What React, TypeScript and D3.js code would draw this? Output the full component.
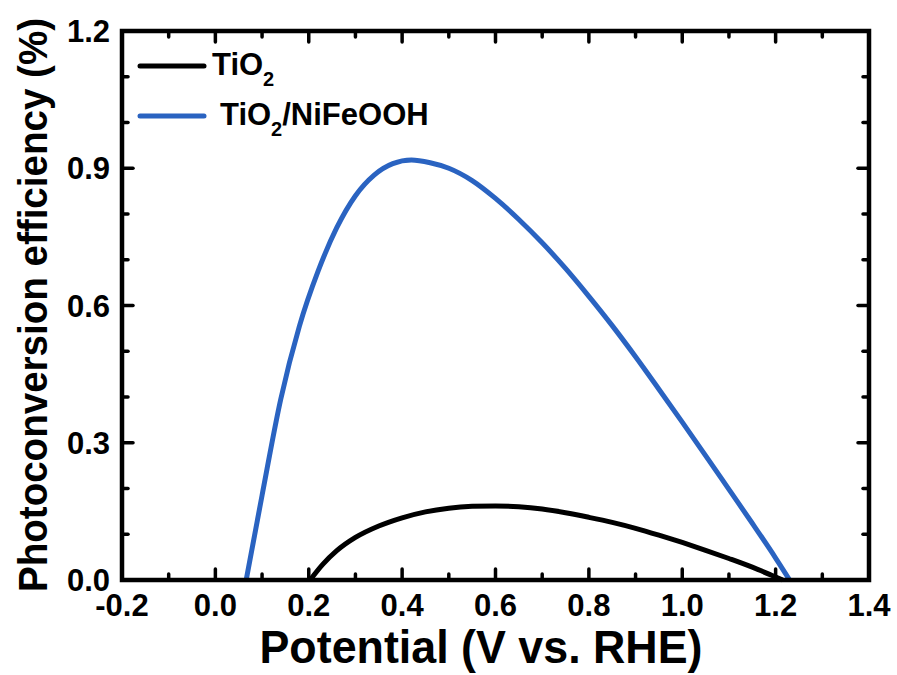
import React from "react";
import * as d3 from "d3";

const blueV = [0.066, 0.1, 0.14, 0.18, 0.22, 0.26, 0.3, 0.34, 0.38, 0.42, 0.46, 0.5, 0.55, 0.6, 0.65, 0.7, 0.75, 0.8, 0.85, 0.9, 0.95, 1.0, 1.05, 1.1, 1.15, 1.2, 1.23];
const blueE = [0, 0.185, 0.395, 0.555, 0.675, 0.77, 0.84, 0.885, 0.91, 0.918, 0.912, 0.9, 0.873, 0.834, 0.788, 0.737, 0.681, 0.62, 0.556, 0.488, 0.417, 0.345, 0.272, 0.198, 0.124, 0.048, 0];
const blackV = [0.203, 0.23, 0.26, 0.3, 0.35, 0.4, 0.45, 0.5, 0.55, 0.6, 0.65, 0.7, 0.75, 0.8, 0.85, 0.9, 0.95, 1.0, 1.05, 1.1, 1.15, 1.19, 1.215];
const blackE = [0, 0.034, 0.064, 0.093, 0.118, 0.136, 0.149, 0.157, 0.161, 0.162, 0.16, 0.155, 0.147, 0.137, 0.126, 0.113, 0.098, 0.082, 0.065, 0.047, 0.028, 0.011, 0];

const xMajor = [-0.2, 0.0, 0.2, 0.4, 0.6, 0.8, 1.0, 1.2, 1.4];
const xMinor = [-0.1, 0.1, 0.3, 0.5, 0.7, 0.9, 1.1, 1.3];
const yMajor = [0.0, 0.3, 0.6, 0.9, 1.2];
const yMinor = [0.1, 0.2, 0.4, 0.5, 0.7, 0.8, 1.0, 1.1];

const BLUE = "#2A63C1";
const FONT = "'Liberation Sans', Arial, sans-serif";

export default function App() {
  const L = 122, R = 869, T = 31, B = 580;
  const x = d3.scaleLinear().domain([-0.2, 1.4]).range([L, R]);
  const y = d3.scaleLinear().domain([0, 1.2]).range([B, T]);
  const line = d3.line<[number, number]>().x(d => x(d[0])).y(d => y(d[1])).curve(d3.curveMonotoneX);
  const blue = line(blueV.map((v, i) => [v, blueE[i]] as [number, number])) || "";
  const black = line(blackV.map((v, i) => [v, blackE[i]] as [number, number])) || "";
  const maj = 11, mnr = 6;
  const tickStyle = { stroke: "#000", strokeWidth: 3.5, strokeLinecap: "round" as const };

  return (
    <svg width={897} height={675} style={{ position: "absolute", left: 0, top: 0, background: "#fff" }} fontFamily={FONT} fontWeight="bold">
      <rect x={0} y={0} width={897} height={675} fill="#fff" />
      <path d={black} fill="none" stroke="#000" strokeWidth={5} strokeLinejoin="round" />
      <path d={blue} fill="none" stroke={BLUE} strokeWidth={5} strokeLinejoin="round" />
      {xMajor.map(v => (
        <g key={"xM" + v}>
          <line x1={x(v)} x2={x(v)} y1={B} y2={B - maj} {...tickStyle} />
          <line x1={x(v)} x2={x(v)} y1={T} y2={T + maj} {...tickStyle} />
        </g>
      ))}
      {xMinor.map(v => (
        <g key={"xm" + v}>
          <line x1={x(v)} x2={x(v)} y1={B} y2={B - mnr} {...tickStyle} />
          <line x1={x(v)} x2={x(v)} y1={T} y2={T + mnr} {...tickStyle} />
        </g>
      ))}
      {yMajor.map(v => (
        <g key={"yM" + v}>
          <line x1={L} x2={L + maj} y1={y(v)} y2={y(v)} {...tickStyle} />
          <line x1={R} x2={R - maj} y1={y(v)} y2={y(v)} {...tickStyle} />
        </g>
      ))}
      {yMinor.map(v => (
        <g key={"ym" + v}>
          <line x1={L} x2={L + mnr} y1={y(v)} y2={y(v)} {...tickStyle} />
          <line x1={R} x2={R - mnr} y1={y(v)} y2={y(v)} {...tickStyle} />
        </g>
      ))}
      <rect x={L} y={T} width={R - L} height={B - T} fill="none" stroke="#000" strokeWidth={4.5} strokeLinejoin="miter" />
      {xMajor.map(v => (
        <text key={"xl" + v} x={x(v)} y={616} textAnchor="middle" fontSize={31} fill="#000">{d3.format(".1f")(v).replace("−", "-")}</text>
      ))}
      {yMajor.map(v => (
        <text key={"yl" + v} x={110} y={y(v) + 11} textAnchor="end" fontSize={31} fill="#000">{d3.format(".1f")(v)}</text>
      ))}
      <text x={481} y={663} textAnchor="middle" fontSize={46} textLength={443} lengthAdjust="spacingAndGlyphs" fill="#000">Potential (V vs. RHE)</text>
      <text transform="translate(47,305) rotate(-90)" textAnchor="middle" fontSize={40} textLength={574} lengthAdjust="spacingAndGlyphs" fill="#000">Photoconversion efficiency (%)</text>
      <line x1={140} x2={204} y1={66} y2={66} stroke="#000" strokeWidth={5} strokeLinecap="round" />
      <line x1={140} x2={204} y1={116} y2={116} stroke={BLUE} strokeWidth={5} strokeLinecap="round" />
      <text x={212} y={75} fontSize={31} fill="#000">
        TiO<tspan fontSize={20} dy={11}>2</tspan>
      </text>
      <text x={220} y={125} fontSize={31} fill="#000">
        TiO<tspan fontSize={20} dy={11}>2</tspan><tspan dy={-11}>/NiFeOOH</tspan>
      </text>
    </svg>
  );
}
